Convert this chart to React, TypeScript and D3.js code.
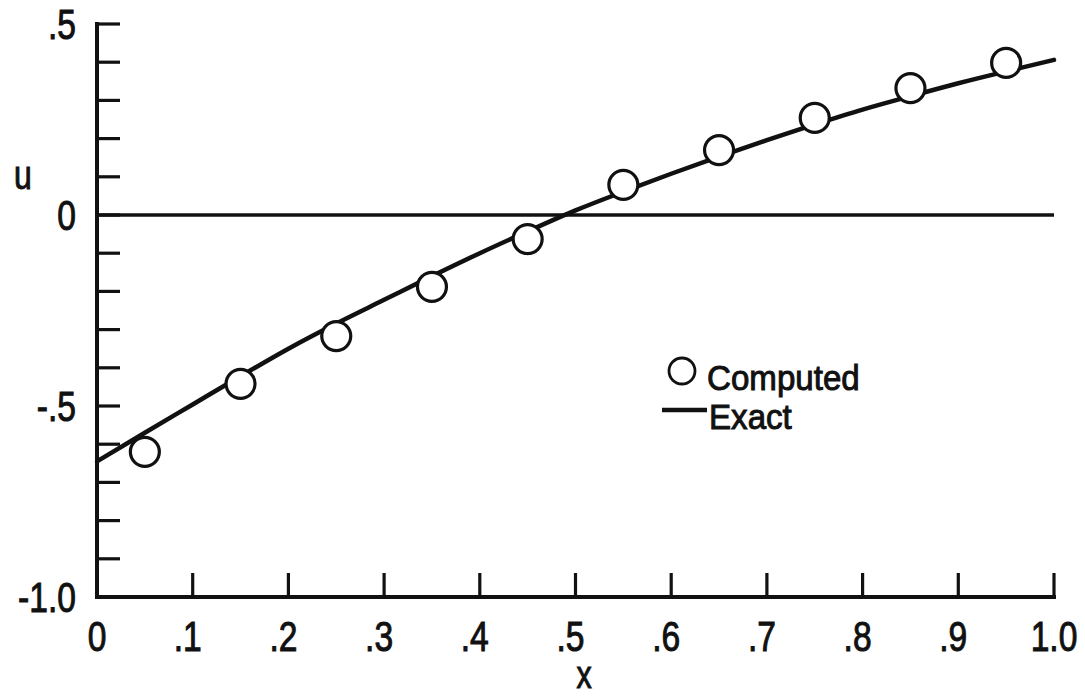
import React from "react";
import * as d3 from "d3";

// Exact solution sampled along x
const exactX = [0, 0.05, 0.1, 0.15, 0.2, 0.25, 0.3, 0.35, 0.4, 0.45, 0.5, 0.55, 0.6, 0.65, 0.7, 0.75, 0.8, 0.85, 0.9, 0.95, 1.0];
const exactU = [-0.645, -0.57, -0.496, -0.422, -0.35, -0.284, -0.222, -0.16, -0.1, -0.043, 0.012, 0.061, 0.108, 0.153, 0.196, 0.237, 0.276, 0.311, 0.345, 0.376, 0.406];

// Computed values at cell centres
const computedX = [0.05, 0.15, 0.25, 0.35, 0.45, 0.55, 0.65, 0.75, 0.85, 0.95];
const computedU = [-0.62, -0.442, -0.317, -0.188, -0.063, 0.079, 0.17, 0.254, 0.332, 0.398];

// Axis ticks and labels
const xTicks = [0, 0.1, 0.2, 0.3, 0.4, 0.5, 0.6, 0.7, 0.8, 0.9, 1.0];
const xTickLabels = ["0", ".1", ".2", ".3", ".4", ".5", ".6", ".7", ".8", ".9", "1.0"];
const yTicks = [-1.0, -0.9, -0.8, -0.7, -0.6, -0.5, -0.4, -0.3, -0.2, -0.1, 0, 0.1, 0.2, 0.3, 0.4, 0.5];
const yLabelTicks = [0.5, 0, -0.5, -1.0];
const yTickLabels = [".5", "0", "-.5", "-1.0"];

const legendLabels = ["Computed", "Exact"];

const sans = "'Liberation Sans', Arial, sans-serif";
const ink = "#111";

// Condensed lettering: horizontally squeezed sans text
function Label({
  x,
  y,
  anchor = "start",
  size,
  squeeze = 0.8,
  children,
}: {
  x: number;
  y: number;
  anchor?: "start" | "middle" | "end";
  size: number;
  squeeze?: number;
  children: React.ReactNode;
}) {
  return (
    <text
      transform={`translate(${x},${y}) scale(${squeeze},1)`}
      textAnchor={anchor}
      fontFamily={sans}
      fontSize={size}
      fill={ink}
      stroke={ink}
      strokeWidth={1}
    >
      {children}
    </text>
  );
}

export default function App() {
  const W = 1085;
  const H = 698;
  const x = d3.scaleLinear().domain([0, 1]).range([97, 1054]);
  const y = d3.scaleLinear().domain([-1, 0.5]).range([597, 24]);

  const line = d3
    .line<number>()
    .x((_, i) => x(exactX[i]))
    .y((d) => y(d))
    .curve(d3.curveMonotoneX);

  return (
    <svg
      width={W}
      height={H}
      viewBox={`0 0 ${W} ${H}`}
      style={{ position: "absolute", left: 0, top: 0, background: "#fff" }}
    >
      {/* zero reference line */}
      <line x1={x(0)} x2={x(1)} y1={y(0)} y2={y(0)} stroke={ink} strokeWidth={3.5} />

      {/* left axis with ticks */}
      <line x1={x(0)} x2={x(0)} y1={y(0.5) - 2} y2={y(-1) + 2} stroke={ink} strokeWidth={4} />
      {yTicks.map((t) => (
        <line key={`yt${t}`} x1={x(0)} x2={x(0) + 23} y1={y(t)} y2={y(t)} stroke={ink} strokeWidth={3.2} />
      ))}
      {yLabelTicks.map((t, i) => (
        <Label key={`yl${t}`} x={76} y={y(t) + 15} anchor="end" size={42}>
          {yTickLabels[i]}
        </Label>
      ))}

      {/* bottom axis with ticks */}
      <line x1={x(0) - 2} x2={x(1) + 2} y1={y(-1)} y2={y(-1)} stroke={ink} strokeWidth={4} />
      {xTicks.map((t) => (
        <line key={`xt${t}`} x1={x(t)} x2={x(t)} y1={y(-1)} y2={y(-1) - 24} stroke={ink} strokeWidth={3.2} />
      ))}
      {xTicks.map((t, i) => (
        <Label
          key={`xl${t}`}
          x={x(t) - (xTickLabels[i].startsWith(".") ? 5 : 0)}
          y={651}
          anchor="middle"
          size={42}
        >
          {xTickLabels[i]}
        </Label>
      ))}

      {/* axis titles */}
      <Label x={584} y={688} anchor="middle" size={38}>
        x
      </Label>
      <Label x={23} y={189} anchor="middle" size={40}>
        u
      </Label>

      {/* exact solution */}
      <path d={line(exactU) ?? ""} fill="none" stroke={ink} strokeWidth={4.5} strokeLinecap="round" />

      {/* computed points */}
      {computedX.map((cx, i) => (
        <circle key={`c${cx}`} cx={x(cx)} cy={y(computedU[i])} r={14.5} fill="#fff" stroke={ink} strokeWidth={3.2} />
      ))}

      {/* legend */}
      <circle cx={682} cy={371} r={13} fill="#fff" stroke={ink} strokeWidth={2.8} />
      <Label x={707} y={390} size={36} squeeze={0.92}>
        {legendLabels[0]}
      </Label>
      <line x1={662} x2={707} y1={410} y2={410} stroke={ink} strokeWidth={4.5} />
      <Label x={709} y={429} size={36} squeeze={0.92}>
        {legendLabels[1]}
      </Label>
    </svg>
  );
}
